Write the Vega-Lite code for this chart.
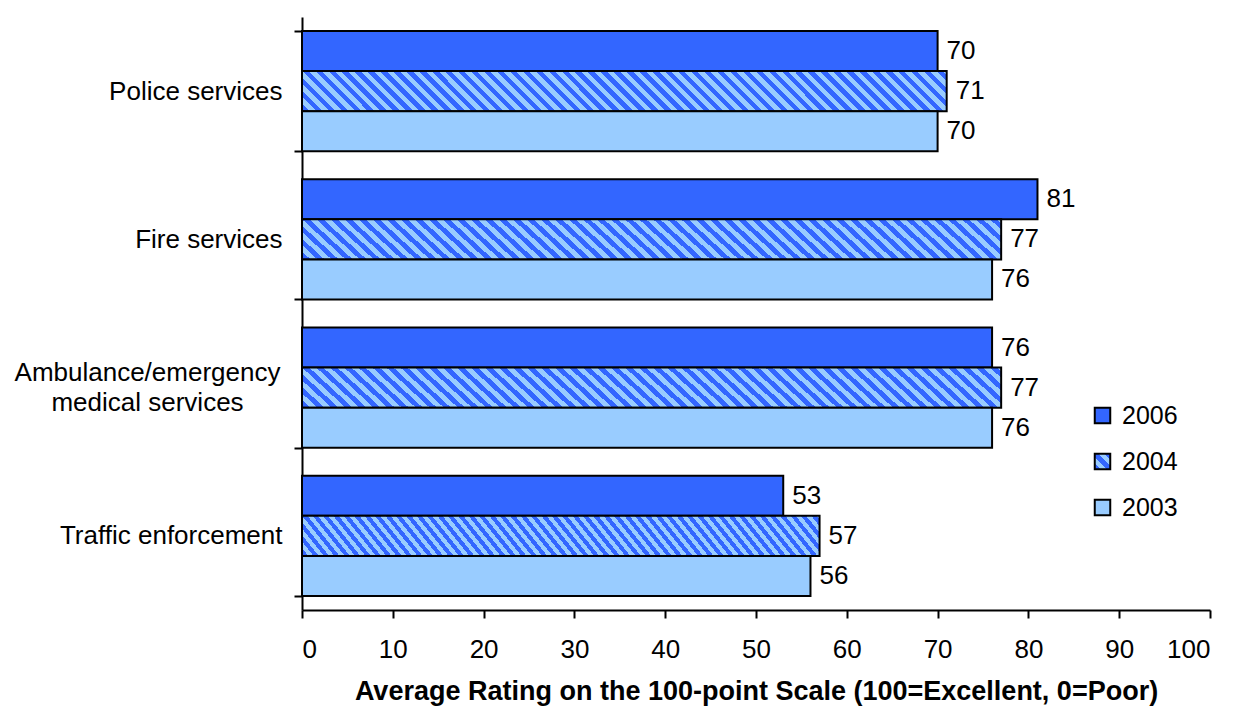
{
"$schema": "https://vega.github.io/schema/vega-lite/v6.json",
"width": 908, "height": 593,
"autosize": "none",
"padding": {"left": 302, "top": 17, "right": 29, "bottom": 98},
"background": "white",
"config": {"view": {"stroke": null}, "font": "Liberation Sans", "axis": {"grid": false}},
"data": {"values": [
{"service": "Police services", "year": "2006", "rating": 70},
{"service": "Police services", "year": "2004", "rating": 71},
{"service": "Police services", "year": "2003", "rating": 70},
{"service": "Fire services", "year": "2006", "rating": 81},
{"service": "Fire services", "year": "2004", "rating": 77},
{"service": "Fire services", "year": "2003", "rating": 76},
{"service": "Ambulance/emergency medical services", "year": "2006", "rating": 76},
{"service": "Ambulance/emergency medical services", "year": "2004", "rating": 77},
{"service": "Ambulance/emergency medical services", "year": "2003", "rating": 76},
{"service": "Traffic enforcement", "year": "2006", "rating": 53},
{"service": "Traffic enforcement", "year": "2004", "rating": 57},
{"service": "Traffic enforcement", "year": "2003", "rating": 56}
]},
"encoding": {
"y": {"field": "service", "type": "nominal",
 "sort": ["Police services", "Fire services", "Ambulance/emergency medical services", "Traffic enforcement"],
 "scale": {"paddingInner": 0.19, "paddingOuter": 0.095},
 "axis": {"title": null, "labelFontSize": 26, "labelColor": "black", "tickBand": "extent", "tickSize": 8, "tickWidth": 2, "tickColor": "black", "domainColor": "black", "domainWidth": 2, "labelLineHeight": 30, "labelLimit": 0,
  "labelExpr": "datum.value == 'Ambulance/emergency medical services' ? ['Ambulance/emergency', 'medical services'] : datum.label",
  "labelAlign": {"condition": {"test": "datum.value == 'Ambulance/emergency medical services'", "value": "center"}, "value": "right"},
  "labelPadding": {"condition": {"test": "datum.value == 'Ambulance/emergency medical services'", "value": 147}, "value": 12},
  "labelOffset": {"condition": {"test": "datum.value == 'Ambulance/emergency medical services'", "value": -15}, "value": 0}}},
"yOffset": {"field": "year", "type": "nominal", "sort": ["2006", "2004", "2003"], "scale": {"paddingInner": 0, "paddingOuter": 0}},
"x": {"field": "rating", "type": "quantitative", "scale": {"domain": [0, 100]},
 "axis": {"title": "Average Rating on the 100-point Scale (100=Excellent, 0=Poor)", "titleFontSize": 27, "titleFontWeight": "bold", "titleColor": "black", "titlePadding": 16,
  "labelFontSize": 26, "labelColor": "black", "labelPadding": 18, "values": [0,10,20,30,40,50,60,70,80,90,100],
  "tickSize": 8, "tickWidth": 2, "tickColor": "black", "domainColor": "black", "domainWidth": 2}}
},
"layer": [
{"mark": {"type": "bar", "stroke": "black", "strokeWidth": 2},
 "encoding": {"fill": {"field": "year", "type": "nominal",
  "scale": {"domain": ["2006", "2004", "2003"], "range": ["#3366FF",
    {"expr": "{gradient: 'linear', x1: 0, y1: 1, x2: 1, y2: 0, stops: [{offset: 0, color: '#36f'}, {offset: 0.2, color: '#36f'}, {offset: 0.2, color: '#9cf'}, {offset: 0.4, color: '#9cf'}, {offset: 0.4, color: '#36f'}, {offset: 0.6, color: '#36f'}, {offset: 0.6, color: '#9cf'}, {offset: 0.8, color: '#9cf'}, {offset: 0.8, color: '#36f'}, {offset: 1, color: '#36f'}]}"},
    "#99CCFF"]},
  "legend": {"orient": "none", "legendX": 788, "legendY": 386, "title": null, "padding": 0, "symbolType": "square", "symbolSize": 240, "symbolStrokeWidth": 2, "labelFontSize": 25, "labelColor": "black", "labelOffset": 7, "rowPadding": 20},
  "condition": {"test": "datum.year == '2004'", "value": {"gradient": "linear", "x1": -0.1, "y1": 0, "x2": 1.1, "y2": -0.0744, "stops": [
{"offset":0,"color":"#36f"},
{"offset":0.0083,"color":"#36f"},{"offset":0.0083,"color":"#9cf"},
{"offset":0.0167,"color":"#9cf"},{"offset":0.0167,"color":"#36f"},
{"offset":0.025,"color":"#36f"},{"offset":0.025,"color":"#9cf"},
{"offset":0.0333,"color":"#9cf"},{"offset":0.0333,"color":"#36f"},
{"offset":0.0417,"color":"#36f"},{"offset":0.0417,"color":"#9cf"},
{"offset":0.05,"color":"#9cf"},{"offset":0.05,"color":"#36f"},
{"offset":0.0583,"color":"#36f"},{"offset":0.0583,"color":"#9cf"},
{"offset":0.0667,"color":"#9cf"},{"offset":0.0667,"color":"#36f"},
{"offset":0.075,"color":"#36f"},{"offset":0.075,"color":"#9cf"},
{"offset":0.0833,"color":"#9cf"},{"offset":0.0833,"color":"#36f"},
{"offset":0.0917,"color":"#36f"},{"offset":0.0917,"color":"#9cf"},
{"offset":0.1,"color":"#9cf"},{"offset":0.1,"color":"#36f"},
{"offset":0.1083,"color":"#36f"},{"offset":0.1083,"color":"#9cf"},
{"offset":0.1167,"color":"#9cf"},{"offset":0.1167,"color":"#36f"},
{"offset":0.125,"color":"#36f"},{"offset":0.125,"color":"#9cf"},
{"offset":0.1333,"color":"#9cf"},{"offset":0.1333,"color":"#36f"},
{"offset":0.1417,"color":"#36f"},{"offset":0.1417,"color":"#9cf"},
{"offset":0.15,"color":"#9cf"},{"offset":0.15,"color":"#36f"},
{"offset":0.1583,"color":"#36f"},{"offset":0.1583,"color":"#9cf"},
{"offset":0.1667,"color":"#9cf"},{"offset":0.1667,"color":"#36f"},
{"offset":0.175,"color":"#36f"},{"offset":0.175,"color":"#9cf"},
{"offset":0.1833,"color":"#9cf"},{"offset":0.1833,"color":"#36f"},
{"offset":0.1917,"color":"#36f"},{"offset":0.1917,"color":"#9cf"},
{"offset":0.2,"color":"#9cf"},{"offset":0.2,"color":"#36f"},
{"offset":0.2083,"color":"#36f"},{"offset":0.2083,"color":"#9cf"},
{"offset":0.2167,"color":"#9cf"},{"offset":0.2167,"color":"#36f"},
{"offset":0.225,"color":"#36f"},{"offset":0.225,"color":"#9cf"},
{"offset":0.2333,"color":"#9cf"},{"offset":0.2333,"color":"#36f"},
{"offset":0.2417,"color":"#36f"},{"offset":0.2417,"color":"#9cf"},
{"offset":0.25,"color":"#9cf"},{"offset":0.25,"color":"#36f"},
{"offset":0.2583,"color":"#36f"},{"offset":0.2583,"color":"#9cf"},
{"offset":0.2667,"color":"#9cf"},{"offset":0.2667,"color":"#36f"},
{"offset":0.275,"color":"#36f"},{"offset":0.275,"color":"#9cf"},
{"offset":0.2833,"color":"#9cf"},{"offset":0.2833,"color":"#36f"},
{"offset":0.2917,"color":"#36f"},{"offset":0.2917,"color":"#9cf"},
{"offset":0.3,"color":"#9cf"},{"offset":0.3,"color":"#36f"},
{"offset":0.3083,"color":"#36f"},{"offset":0.3083,"color":"#9cf"},
{"offset":0.3167,"color":"#9cf"},{"offset":0.3167,"color":"#36f"},
{"offset":0.325,"color":"#36f"},{"offset":0.325,"color":"#9cf"},
{"offset":0.3333,"color":"#9cf"},{"offset":0.3333,"color":"#36f"},
{"offset":0.3417,"color":"#36f"},{"offset":0.3417,"color":"#9cf"},
{"offset":0.35,"color":"#9cf"},{"offset":0.35,"color":"#36f"},
{"offset":0.3583,"color":"#36f"},{"offset":0.3583,"color":"#9cf"},
{"offset":0.3667,"color":"#9cf"},{"offset":0.3667,"color":"#36f"},
{"offset":0.375,"color":"#36f"},{"offset":0.375,"color":"#9cf"},
{"offset":0.3833,"color":"#9cf"},{"offset":0.3833,"color":"#36f"},
{"offset":0.3917,"color":"#36f"},{"offset":0.3917,"color":"#9cf"},
{"offset":0.4,"color":"#9cf"},{"offset":0.4,"color":"#36f"},
{"offset":0.4083,"color":"#36f"},{"offset":0.4083,"color":"#9cf"},
{"offset":0.4167,"color":"#9cf"},{"offset":0.4167,"color":"#36f"},
{"offset":0.425,"color":"#36f"},{"offset":0.425,"color":"#9cf"},
{"offset":0.4333,"color":"#9cf"},{"offset":0.4333,"color":"#36f"},
{"offset":0.4417,"color":"#36f"},{"offset":0.4417,"color":"#9cf"},
{"offset":0.45,"color":"#9cf"},{"offset":0.45,"color":"#36f"},
{"offset":0.4583,"color":"#36f"},{"offset":0.4583,"color":"#9cf"},
{"offset":0.4667,"color":"#9cf"},{"offset":0.4667,"color":"#36f"},
{"offset":0.475,"color":"#36f"},{"offset":0.475,"color":"#9cf"},
{"offset":0.4833,"color":"#9cf"},{"offset":0.4833,"color":"#36f"},
{"offset":0.4917,"color":"#36f"},{"offset":0.4917,"color":"#9cf"},
{"offset":0.5,"color":"#9cf"},{"offset":0.5,"color":"#36f"},
{"offset":0.5083,"color":"#36f"},{"offset":0.5083,"color":"#9cf"},
{"offset":0.5167,"color":"#9cf"},{"offset":0.5167,"color":"#36f"},
{"offset":0.525,"color":"#36f"},{"offset":0.525,"color":"#9cf"},
{"offset":0.5333,"color":"#9cf"},{"offset":0.5333,"color":"#36f"},
{"offset":0.5417,"color":"#36f"},{"offset":0.5417,"color":"#9cf"},
{"offset":0.55,"color":"#9cf"},{"offset":0.55,"color":"#36f"},
{"offset":0.5583,"color":"#36f"},{"offset":0.5583,"color":"#9cf"},
{"offset":0.5667,"color":"#9cf"},{"offset":0.5667,"color":"#36f"},
{"offset":0.575,"color":"#36f"},{"offset":0.575,"color":"#9cf"},
{"offset":0.5833,"color":"#9cf"},{"offset":0.5833,"color":"#36f"},
{"offset":0.5917,"color":"#36f"},{"offset":0.5917,"color":"#9cf"},
{"offset":0.6,"color":"#9cf"},{"offset":0.6,"color":"#36f"},
{"offset":0.6083,"color":"#36f"},{"offset":0.6083,"color":"#9cf"},
{"offset":0.6167,"color":"#9cf"},{"offset":0.6167,"color":"#36f"},
{"offset":0.625,"color":"#36f"},{"offset":0.625,"color":"#9cf"},
{"offset":0.6333,"color":"#9cf"},{"offset":0.6333,"color":"#36f"},
{"offset":0.6417,"color":"#36f"},{"offset":0.6417,"color":"#9cf"},
{"offset":0.65,"color":"#9cf"},{"offset":0.65,"color":"#36f"},
{"offset":0.6583,"color":"#36f"},{"offset":0.6583,"color":"#9cf"},
{"offset":0.6667,"color":"#9cf"},{"offset":0.6667,"color":"#36f"},
{"offset":0.675,"color":"#36f"},{"offset":0.675,"color":"#9cf"},
{"offset":0.6833,"color":"#9cf"},{"offset":0.6833,"color":"#36f"},
{"offset":0.6917,"color":"#36f"},{"offset":0.6917,"color":"#9cf"},
{"offset":0.7,"color":"#9cf"},{"offset":0.7,"color":"#36f"},
{"offset":0.7083,"color":"#36f"},{"offset":0.7083,"color":"#9cf"},
{"offset":0.7167,"color":"#9cf"},{"offset":0.7167,"color":"#36f"},
{"offset":0.725,"color":"#36f"},{"offset":0.725,"color":"#9cf"},
{"offset":0.7333,"color":"#9cf"},{"offset":0.7333,"color":"#36f"},
{"offset":0.7417,"color":"#36f"},{"offset":0.7417,"color":"#9cf"},
{"offset":0.75,"color":"#9cf"},{"offset":0.75,"color":"#36f"},
{"offset":0.7583,"color":"#36f"},{"offset":0.7583,"color":"#9cf"},
{"offset":0.7667,"color":"#9cf"},{"offset":0.7667,"color":"#36f"},
{"offset":0.775,"color":"#36f"},{"offset":0.775,"color":"#9cf"},
{"offset":0.7833,"color":"#9cf"},{"offset":0.7833,"color":"#36f"},
{"offset":0.7917,"color":"#36f"},{"offset":0.7917,"color":"#9cf"},
{"offset":0.8,"color":"#9cf"},{"offset":0.8,"color":"#36f"},
{"offset":0.8083,"color":"#36f"},{"offset":0.8083,"color":"#9cf"},
{"offset":0.8167,"color":"#9cf"},{"offset":0.8167,"color":"#36f"},
{"offset":0.825,"color":"#36f"},{"offset":0.825,"color":"#9cf"},
{"offset":0.8333,"color":"#9cf"},{"offset":0.8333,"color":"#36f"},
{"offset":0.8417,"color":"#36f"},{"offset":0.8417,"color":"#9cf"},
{"offset":0.85,"color":"#9cf"},{"offset":0.85,"color":"#36f"},
{"offset":0.8583,"color":"#36f"},{"offset":0.8583,"color":"#9cf"},
{"offset":0.8667,"color":"#9cf"},{"offset":0.8667,"color":"#36f"},
{"offset":0.875,"color":"#36f"},{"offset":0.875,"color":"#9cf"},
{"offset":0.8833,"color":"#9cf"},{"offset":0.8833,"color":"#36f"},
{"offset":0.8917,"color":"#36f"},{"offset":0.8917,"color":"#9cf"},
{"offset":0.9,"color":"#9cf"},{"offset":0.9,"color":"#36f"},
{"offset":0.9083,"color":"#36f"},{"offset":0.9083,"color":"#9cf"},
{"offset":0.9167,"color":"#9cf"},{"offset":0.9167,"color":"#36f"},
{"offset":0.925,"color":"#36f"},{"offset":0.925,"color":"#9cf"},
{"offset":0.9333,"color":"#9cf"},{"offset":0.9333,"color":"#36f"},
{"offset":0.9417,"color":"#36f"},{"offset":0.9417,"color":"#9cf"},
{"offset":0.95,"color":"#9cf"},{"offset":0.95,"color":"#36f"},
{"offset":0.9583,"color":"#36f"},{"offset":0.9583,"color":"#9cf"},
{"offset":0.9667,"color":"#9cf"},{"offset":0.9667,"color":"#36f"},
{"offset":0.975,"color":"#36f"},{"offset":0.975,"color":"#9cf"},
{"offset":0.9833,"color":"#9cf"},{"offset":0.9833,"color":"#36f"},
{"offset":0.9917,"color":"#36f"},{"offset":0.9917,"color":"#9cf"},
{"offset":1,"color":"#9cf"}
]}}}}},
{"mark": {"type": "text", "align": "left", "baseline": "middle", "dx": 9, "fontSize": 26, "color": "black"},
 "encoding": {"text": {"field": "rating", "type": "quantitative"}}}
]
}
